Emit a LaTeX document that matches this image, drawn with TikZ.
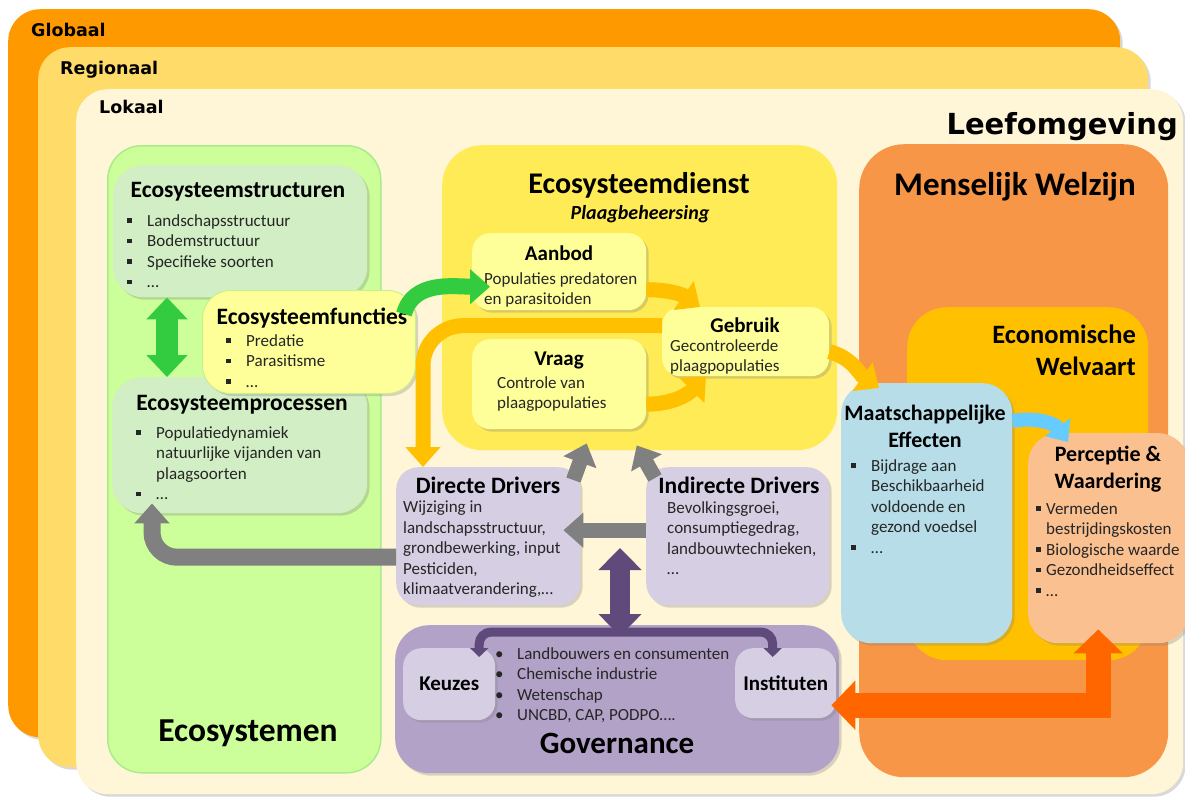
\documentclass[tikz,border=0pt]{standalone}
\usepackage{fontspec}
\setmainfont{Carlito}
\newfontfamily\verdfont{DejaVu Sans}
\usetikzlibrary{arrows.meta,shadows,positioning}

\definecolor{globC}{RGB}{255,153,0}
\definecolor{regC}{RGB}{255,220,106}
\definecolor{lokC}{RGB}{255,245,215}
\definecolor{ecoC}{RGB}{204,255,153}
\definecolor{ecoboxC}{RGB}{210,238,196}
\definecolor{lightyC}{RGB}{255,255,153}
\definecolor{dienstC}{RGB}{255,235,85}
\definecolor{welzijnC}{RGB}{247,150,70}
\definecolor{welvaartC}{RGB}{255,192,0}
\definecolor{maatC}{RGB}{183,222,232}
\definecolor{percC}{RGB}{250,192,144}
\definecolor{drvC}{RGB}{214,207,227}
\definecolor{govC}{RGB}{179,162,199}
\definecolor{grnC}{RGB}{51,204,64}
\definecolor{orgC}{RGB}{255,192,0}
\definecolor{grayC}{RGB}{128,128,128}
\definecolor{purC}{RGB}{96,74,123}
\definecolor{redC}{RGB}{255,102,0}
\definecolor{bluC}{RGB}{102,204,255}

\newcommand{\sqb}{\makebox[20pt][l]{\rule[3.5pt]{4.5pt}{4.5pt}}}
\newcommand{\sqs}{\makebox[10pt][l]{\rule[3.5pt]{4.5pt}{4.5pt}}}
\newcommand{\dotb}{\makebox[22pt][l]{\textbullet}}

\begin{document}
\begin{tikzpicture}[x=1pt,y=-1pt]
\tikzstyle{every node}+=[inner sep=0pt]
\tikzstyle{box}=[anchor=north west, rounded corners=26pt, draw=none]
\tikzstyle{shad}=[drop shadow={opacity=0.3,shadow xshift=2.5pt,shadow yshift=-2.5pt}]
\tikzstyle{head}=[font=\bfseries\fontsize{23.5}{27}\selectfont, align=center]
\tikzstyle{subhead}=[font=\bfseries\fontsize{21}{26}\selectfont, align=center]
\tikzstyle{txt}=[font=\fontsize{17}{20.5}\selectfont, align=left, anchor=north west, text=black!85]
\tikzstyle{lvl}=[font=\verdfont\bfseries\fontsize{17.5}{21}\selectfont, anchor=west]
\tikzstyle{big}=[font=\bfseries\fontsize{31}{36}\selectfont]
\tikzstyle{grnarr}=[draw=grnC, line width=16pt, -{Triangle[width=34pt,length=20pt]}]
\tikzstyle{grndbl}=[draw=grnC, line width=22pt, {Triangle[width=40pt,length=22pt]}-{Triangle[width=40pt,length=22pt]}]
\tikzstyle{orgarr}=[draw=orgC, line width=15pt, -{Triangle[width=34pt,length=20pt]}]
\tikzstyle{grayarr}=[draw=grayC, line width=15pt, -{Triangle[width=34pt,length=20pt]}]
\tikzstyle{purdbl}=[draw=purC, line width=20pt, {Triangle[width=42pt,length=22pt]}-{Triangle[width=42pt,length=22pt]}]
\tikzstyle{purbr}=[draw=purC, line width=9pt, {Triangle[width=18pt,length=9pt]}-{Triangle[width=18pt,length=9pt]}]
\tikzstyle{bluarr}=[draw=bluC, line width=14pt, -{Triangle[width=30pt,length=18pt]}]
\tikzstyle{reddbl}=[draw=redC, line width=25pt, {Triangle[width=48pt,length=24pt]}-{Triangle[width=48pt,length=24pt]}]
\useasboundingbox (0,0) rectangle (1185,796);
% schaalniveaus
\node[box, shad, rounded corners=32pt, fill=globC, minimum width=1112pt, minimum height=728pt] (glob) at (8,9) {};
\node[box, shad, rounded corners=32pt, fill=regC, minimum width=1110pt, minimum height=720pt] (reg) at (38,47) {};
\node[box, shad, rounded corners=32pt, fill=lokC, minimum width=1107pt, minimum height=705pt] (lok) at (76,89) {};
\node[lvl] (globT) at (31,30) {Globaal};
\node[lvl] (regT) at (60,70) {Regionaal};
\node[lvl] (lokT) at (99,107) {Lokaal};
\node[font=\verdfont\bfseries\fontsize{29}{34}\selectfont, anchor=east] (leefT) at (1178,127) {Leefomgeving};
% ecosystemen
\node[box, fill=ecoC, draw={rgb,255:red,170;green,235;blue,140}, line width=1.5pt, rounded corners=34pt, minimum width=273pt, minimum height=627pt] (ecosys) at (107,145) {};
\node[box, shad, fill=ecoboxC, rounded corners=30pt, minimum width=254pt, minimum height=132pt] (struct) at (113,165) {};
\node[head] (structH) at (238,192) {Ecosysteemstructuren};
\node[txt] (structL) at (127,214) {\sqb Landschapsstructuur\\\sqb Bodemstructuur\\\sqb Specifieke soorten\\\sqb\dots};
\node[box, shad, fill=ecoboxC, rounded corners=30pt, minimum width=255pt, minimum height=136pt] (procs) at (112,377) {};
\node[head] (procsH) at (242,405) {Ecosysteemprocessen};
\node[txt] (procsL) at (136,426) {\sqb Populatiedynamiek\\\hspace*{20pt}natuurlijke vijanden van\\\hspace*{20pt}plaagsoorten\\\sqb\dots};
\node[box, shad, fill=lightyC, draw={rgb,255:red,200;green,240;blue,140}, line width=1pt, rounded corners=28pt, minimum width=213pt, minimum height=103pt] (functies) at (202,290) {};
\node[head] (functiesH) at (312,318) {Ecosysteemfuncties};
\node[txt] (functiesL) at (226,334) {\sqb Predatie\\\sqb Parasitisme\\\sqb\dots};
\node[big, font=\bfseries\fontsize{33.5}{38}\selectfont] (ecosysT) at (248,733) {Ecosystemen};
% ecosysteemdienst
\node[box, fill=dienstC, rounded corners=40pt, minimum width=395pt, minimum height=305pt] (dienst) at (442,145) {};
\node[font=\bfseries\fontsize{30}{34}\selectfont] (dienstH) at (639,185) {Ecosysteemdienst};
\node[font=\bfseries\itshape\fontsize{20}{24}\selectfont] (plaagT) at (640,214) {Plaagbeheersing};
\node[box, shad, fill=lightyC, rounded corners=18pt, minimum width=174pt, minimum height=77pt] (aanbod) at (472,233) {};
\node[subhead] (aanbodH) at (559,253) {Aanbod};
\node[txt] (aanbodL) at (484,272) {Populaties predatoren\\en parasitoiden};
\node[box, shad, fill=lightyC, rounded corners=18pt, minimum width=174pt, minimum height=90pt] (vraag) at (472,339) {};
\node[subhead] (vraagH) at (559,360) {Vraag};
\node[txt] (vraagL) at (497,376) {Controle van\\plaagpopulaties};
\node[box, shad, fill=lightyC, rounded corners=18pt, minimum width=167pt, minimum height=69pt] (gebruik) at (662,307) {};
\node[subhead] (gebruikH) at (745,325) {Gebruik};
\node[txt, font=\fontsize{17}{20}\selectfont] (gebruikL) at (670,339) {Gecontroleerde\\plaagpopulaties};
% menselijk welzijn
\node[box, fill=welzijnC, rounded corners=45pt, minimum width=309pt, minimum height=633pt] (welzijn) at (859,144) {};
\node[font=\bfseries\fontsize{33}{38}\selectfont] (welzijnH) at (1015,187) {Menselijk Welzijn};
\node[box, fill=welvaartC, rounded corners=40pt, minimum width=241pt, minimum height=353pt] (welvaart) at (907,307) {};
\node[font=\bfseries\fontsize{26.5}{32}\selectfont, align=right, anchor=north east] (welvaartH) at (1136,325) {Economische\\Welvaart};
\node[box, shad, fill=maatC, rounded corners=30pt, minimum width=171pt, minimum height=260pt] (maatsch) at (841,383) {};
\node[head, font=\bfseries\fontsize{22}{27}\selectfont, anchor=north] (maatschH) at (925,405) {Maatschappelijke\\Effecten};
\node[txt] (maatschL) at (851,459) {\sqb Bijdrage aan\\\hspace*{20pt}Beschikbaarheid\\\hspace*{20pt}voldoende en\\\hspace*{20pt}gezond voedsel\\\sqb\dots};
\node[box, shad, fill=percC, rounded corners=30pt, minimum width=160pt, minimum height=210pt] (perc) at (1028,433) {};
\node[head, font=\bfseries\fontsize{22}{27}\selectfont, anchor=north] (percH) at (1108,446) {Perceptie \&\\Waardering};
\node[txt] (percL) at (1036,502) {\sqs Vermeden\\\hspace*{10pt}bestrijdingskosten\\\sqs Biologische waarde\\\sqs Gezondheidseffect\\\sqs\dots};
% drivers
\node[box, shad, fill=drvC, rounded corners=22pt, minimum width=184pt, minimum height=138pt] (directe) at (396,467) {};
\node[head] (directeH) at (488,485) {Directe Drivers};
\node[txt] (directeL) at (403,501) {Wijziging in\\landschapsstructuur,\\grondbewerking, input\\Pesticiden,\\klimaatverandering,\dots};
\node[box, shad, fill=drvC, rounded corners=22pt, minimum width=183pt, minimum height=138pt] (indirecte) at (646,467) {};
\node[head] (indirecteH) at (739,485) {Indirecte Drivers};
\node[txt] (indirecteL) at (667,501) {Bevolkingsgroei,\\consumptiegedrag,\\landbouwtechnieken,\\\dots};
% governance
\node[box, shad, fill=govC, rounded corners=34pt, minimum width=444pt, minimum height=148pt] (gov) at (395,625) {};
\node[box, shad, fill=drvC, rounded corners=18pt, minimum width=92pt, minimum height=72pt, font=\bfseries\fontsize{21}{25}\selectfont] (keuzes) at (403,648) {Keuzes};
\node[box, shad, fill=drvC, rounded corners=18pt, minimum width=101pt, minimum height=70pt, font=\bfseries\fontsize{21}{25}\selectfont] (inst) at (735,648) {Instituten};
\node[txt] (govL) at (495,647) {\dotb Landbouwers en consumenten\\\dotb Chemische industrie\\\dotb Wetenschap\\\dotb UNCBD, CAP, PODPO\dots.};
\node[big] (govT) at (617,743) {Governance};
% pijlen
\coordinate (gx) at (167,0);
\draw[grndbl] (gx |- struct.south) -- (gx |- procs.north);
\draw[grnarr] ([xshift=-12pt,yshift=-24pt]functies.north east) to[out=75,in=180] ([xshift=18pt,yshift=-15pt]aanbod.west);
\draw[orgarr] ([yshift=-18pt]aanbod.east) to[out=0,in=145] ([xshift=38pt]gebruik.north west);
\draw[orgarr] ([yshift=-20pt]vraag.east) to[out=0,in=-135] ([xshift=44pt]gebruik.south west);
\draw[orgarr] ([yshift=-10pt]gebruik.east) to[out=-15,in=145] ([xshift=38pt,yshift=-5pt]maatsch.north west);
\draw[orgarr, rounded corners=40pt] ([yshift=16pt]gebruik.west) -| ([xshift=27pt]directe.north west);
\draw[grayarr] ([yshift=6pt]indirecte.west) -- ([xshift=-17pt,yshift=6pt]directe.east);
\draw[grayarr] ([xshift=-7pt,yshift=-13pt]directe.north east) -- ([xshift=-53pt,yshift=7pt]dienst.south);
\draw[grayarr] ([xshift=9pt,yshift=-11pt]indirecte.north west) -- ([xshift=-3pt,yshift=5pt]dienst.south);
\draw[grayarr, line width=17pt, rounded corners=25pt] ([yshift=-21pt]directe.west) -| ([xshift=40pt,yshift=10pt]procs.south west);
\coordinate (pb) at (620,632);
\draw[purbr, rounded corners=12pt] ([xshift=30pt,yshift=-9pt]keuzes.north) |- (pb) -| ([xshift=-13pt,yshift=-9pt]inst.north);
\coordinate (pv) at (620,548);
\draw[purdbl] (pv) -- ([yshift=-11pt]pv |- gov.north);
\draw[bluarr] ([yshift=-38pt]maatsch.north east) to[out=10,in=125] ([xshift=40pt,yshift=-9pt]perc.north west);
\draw[reddbl] ([xshift=-5pt,yshift=-22pt]inst.east) -| ([xshift=-10pt,yshift=14pt]perc.south);
\end{tikzpicture}
\end{document}
